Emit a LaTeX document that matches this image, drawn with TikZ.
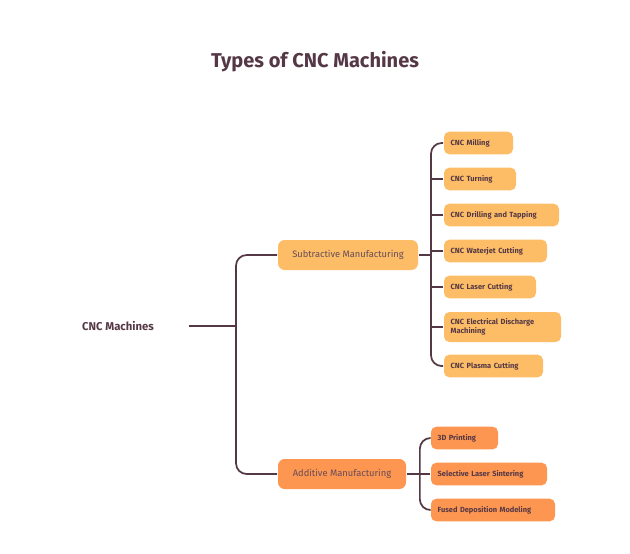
\documentclass[tikz,border=0pt]{standalone}
\usepackage{fontspec}
\setmainfont{Fira Sans}
\usetikzlibrary{positioning}
\definecolor{linec}{HTML}{553845}
\definecolor{subc}{HTML}{FCBD66}
\definecolor{addc}{HTML}{FD9651}
\begin{document}
\begin{tikzpicture}[x=0.75pt,y=-0.75pt,line width=1.3pt]
\tikzstyle{cat} = [rounded corners=5pt, minimum height=22.5pt, inner sep=0pt, font=\fontsize{7}{8}\selectfont, text=linec!90]
\tikzstyle{leaf} = [rounded corners=4pt, minimum height=17pt, inner sep=0pt, align=left, font=\bfseries\fontsize{5.6}{6.5}\selectfont, text=linec]
\tikzstyle{link} = [draw=linec, rounded corners=8pt]
\useasboundingbox (0,0) rectangle (630,553);

\node[font=\bfseries\fontsize{15}{18}\selectfont, text=linec] (title) at (315,62) {Types of CNC Machines};
\node[font=\bfseries\fontsize{8.5}{10}\selectfont, text=linec] (root) at (118,326) {CNC Machines};
\coordinate (trunk) at (236,326);

\node[cat, fill=subc, minimum width=105pt] (sub) at (348,255) {Subtractive Manufacturing};
\node[cat, fill=addc, minimum width=96pt] (add) at (342,474) {Additive Manufacturing};

% subtractive leaves
\foreach \n/\y/\w/\t in {mill/143/69/CNC Milling, turn/179/72/CNC Turning,
  drill/215/115/CNC Drilling and Tapping, water/251/103/CNC Waterjet Cutting,
  laser/287/92/CNC Laser Cutting, plasma/366/99/CNC Plasma Cutting}
  \node[leaf, fill=subc, minimum width=\w*0.75pt, text width=\w*0.75pt-10pt] (\n) at (444+\w/2,\y) {\t};
\node[leaf, fill=subc, minimum width=117*0.75pt, minimum height=22.5pt, text width=117*0.75pt-10pt] (edm) at (502.5,327) {CNC Electrical Discharge\\Machining};

% additive leaves
\foreach \n/\y/\w/\t in {print/438/67/3D Printing, sls/474/116/Selective Laser Sintering,
  fdm/510/124/Fused Deposition Modeling}
  \node[leaf, fill=addc, minimum width=\w*0.75pt, text width=\w*0.75pt-10pt] (\n) at (431+\w/2,\y) {\t};

% connectors
\draw[linec] (root.east) ++(22pt,0) coordinate (rs) -- (trunk);
\draw[link] (sub.west) -| (trunk) |- (add.west);
\draw[linec] (sub.east) -- ++(13,0) coordinate (sj);
\draw[link] (mill.west) -| (431,255) |- (plasma.west);
\foreach \n in {turn,drill,water,laser,edm}
  \draw[linec] (\n.west) -- (\n.west -| sj);
\draw[linec] (add.east) -- ++(13,0) coordinate (aj);
\draw[link] (print.west) -| (aj) |- (fdm.west);
\draw[linec] (aj) -- (sls.west);
\end{tikzpicture}
\end{document}
